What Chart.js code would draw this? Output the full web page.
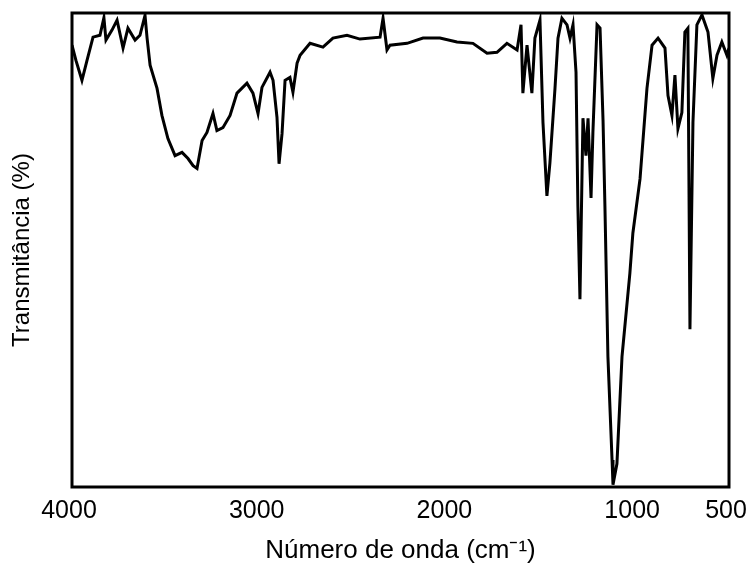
<!DOCTYPE html>
<html>
<head>
<meta charset="utf-8">
<script src="https://cdn.jsdelivr.net/npm/chart.js@4/dist/chart.umd.min.js"></script>
<style>
  html, body { margin: 0; padding: 0; background: #fff; }
  #wrap { width: 747px; height: 570px; }
</style>
</head>
<body>
<div id="wrap"><canvas id="spectre" width="747" height="570"></canvas></div>
<script>
// Nombre d'onde (cm-1)
const wavenumbers = [
  4000, 3979, 3947, 3920, 3888, 3851, 3830, 3819, 3787, 3760,
  3728, 3702, 3664, 3638, 3611, 3600, 3584, 3547, 3521, 3489,
  3451, 3414, 3382, 3355, 3334, 3307, 3281, 3249, 3228, 3196,
  3158, 3121, 3068, 3036, 3009, 2988, 2945, 2929, 2908, 2897,
  2881, 2865, 2839, 2823, 2801, 2785, 2732, 2663, 2610, 2535,
  2466, 2359, 2343, 2322, 2306, 2215, 2130, 2040, 1949, 1864,
  1789, 1736, 1683, 1629, 1608, 1598, 1576, 1550, 1534, 1507,
  1491, 1470, 1454, 1427, 1411, 1390, 1363, 1347, 1331, 1315,
  1305, 1294, 1278, 1262, 1251, 1235, 1225, 1203, 1187, 1171,
  1161, 1145, 1123, 1118, 1097, 1070, 1028, 1012, 974, 937,
  910, 878, 841, 825, 804, 788, 772, 751, 735, 719,
  708, 692, 671, 644, 612, 586, 564, 538, 511, 500
];
// Transmitância (%)
const transmitance = [
  93.2, 90.0, 85.8, 90.0, 94.9, 95.3, 99.0, 94.3, 96.4, 98.5,
  92.6, 96.8, 94.3, 95.3, 99.5, 94.7, 89.0, 84.1, 78.4, 73.5,
  69.9, 70.6, 69.3, 67.8, 67.2, 73.1, 74.8, 78.8, 75.2, 75.8,
  78.4, 83.1, 85.2, 83.1, 78.8, 84.3, 87.5, 85.8, 78.0, 68.2,
  74.6, 85.8, 86.4, 83.3, 89.4, 91.1, 93.6, 92.8, 94.7, 95.3,
  94.5, 94.9, 98.9, 92.2, 93.2, 93.6, 94.7, 94.7, 93.9, 93.6,
  91.5, 91.7, 93.6, 92.2, 97.5, 83.1, 93.2, 83.1, 94.7, 98.5,
  76.9, 61.4, 68.4, 84.1, 94.7, 98.9, 97.5, 94.7, 97.5, 87.5,
  59.3, 39.6, 77.8, 69.9, 77.8, 61.0, 74.8, 97.5, 96.8, 77.3,
  59.3, 27.5, 5.7, 0.5, 4.9, 27.5, 45.1, 53.6, 65.0, 84.1,
  93.2, 94.7, 92.6, 82.6, 78.4, 86.9, 75.6, 79.0, 96.0, 96.8,
  33.3, 76.9, 97.5, 99.6, 96.0, 86.2, 91.1, 93.9, 91.1, 92.6
];
// Graduations etiquetées de l'axe x
const xTickLabels = [4000, 3000, 2000, 1000, 500];

let points = wavenumbers.map((w, i) => ({ x: w, y: transmitance[i] }));

// cadre autour de la zone du graphique
const cadre = {
  id: 'cadre',
  afterDraw(chart) {
    let a = chart.chartArea;
    let ctx = chart.ctx;
    ctx.save();
    ctx.strokeStyle = '#000';
    ctx.lineWidth = 3;
    ctx.strokeRect(a.left, a.top, a.right - a.left, a.bottom - a.top);
    ctx.restore();
  }
};

let ctx = document.getElementById('spectre').getContext('2d');
new Chart(ctx, {
  type: 'line',
  data: {
    datasets: [{
      data: points,
      borderColor: '#000',
      borderWidth: 3,
      pointRadius: 0,
      tension: 0,
      fill: false
    }]
  },
  options: {
    responsive: false,
    animation: false,
    layout: { padding: { top: 13, right: 18, bottom: 0, left: 0 } },
    plugins: { legend: { display: false }, tooltip: { enabled: false } },
    scales: {
      x: {
        type: 'linear',
        reverse: true,
        min: 500,
        max: 4000,
        grid: { display: false, drawTicks: false },
        border: { display: false },
        afterBuildTicks: (scale) => {
          scale.ticks = xTickLabels.map(v => ({ value: v }));
        },
        afterFit: (scale) => {
          scale.height = 83;
          scale.paddingLeft = 0;
          scale.paddingRight = 0;
        },
        ticks: {
          color: '#000',
          padding: 9,
          labelOffset: -3,
          maxRotation: 0,
          font: { family: 'Liberation Sans', size: 25 },
          callback: (v) => String(v)
        },
        title: {
          display: true,
          text: 'Número de onda (cm⁻¹)',
          color: '#000',
          font: { family: 'Liberation Sans', size: 26 },
          padding: { top: 4, bottom: 4 }
        }
      },
      y: {
        min: 0,
        max: 100,
        grid: { display: false, drawTicks: false },
        border: { display: false },
        ticks: { display: false },
        afterFit: (scale) => {
          scale.width = 72;
        },
        title: {
          display: true,
          text: 'Transmitância (%)',
          color: '#000',
          font: { family: 'Liberation Sans', size: 24 },
          padding: { top: 8, bottom: 8 }
        }
      }
    }
  },
  plugins: [cadre]
});
</script>
</body>
</html>
